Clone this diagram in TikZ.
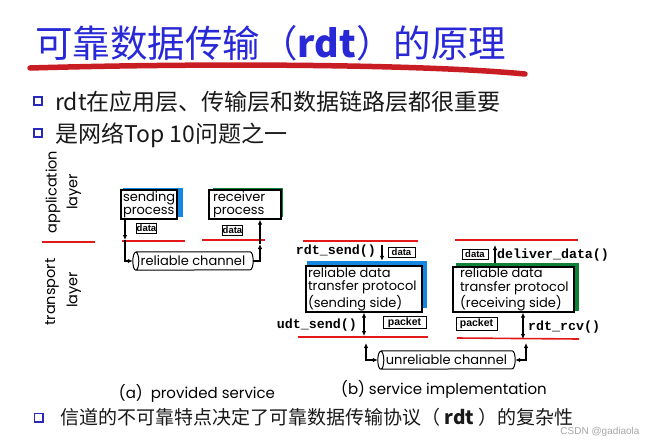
\documentclass[tikz,border=0pt]{standalone}
\usepackage{fontspec}
\setmainfont{Noto Sans CJK SC}
\newfontfamily\gfont{Poppins}
\newfontfamily\mfont{Liberation Mono}
\newfontfamily\lfont{Liberation Sans}
\usetikzlibrary{arrows.meta}
\definecolor{titleblue}{RGB}{40,40,215}
\definecolor{strokered}{RGB}{200,30,35}
\definecolor{linered}{RGB}{225,25,25}
\definecolor{bulblue}{RGB}{40,40,190}
\definecolor{shblue}{RGB}{20,135,225}
\definecolor{shgreen}{RGB}{15,130,55}
\begin{document}
\begin{tikzpicture}[x=1pt,y=-1pt,
  tip/.style={-{Latex[length=5pt,width=4.5pt]}},
  dtip/.style={{Latex[length=5pt,width=4.5pt]}-{Latex[length=5pt,width=4.5pt]}},
  conn/.style={line width=1.1pt},
  redline/.style={draw=linered, line width=1.6pt},
  procbox/.style={draw, line width=1.3pt, fill=white, align=flush left, inner xsep=2pt, inner ysep=0pt, font=\gfont\fontsize{13}{13.5}\selectfont},
  shadowbox/.style={inner sep=0pt},
  tag/.style={draw, line width=1pt, fill=white, inner sep=0pt, font=\lfont\bfseries\fontsize{9.5}{10}\selectfont},
  fname/.style={font=\mfont\bfseries\fontsize{13.3}{14}\selectfont, inner sep=0pt},
  chan/.style={inner sep=0pt, minimum height=18pt, font=\gfont\fontsize{13}{13}\selectfont},
  layerlbl/.style={rotate=90, font=\gfont\fontsize{14.5}{15}\selectfont, inner sep=0pt},
  captxt/.style={font=\gfont\fontsize{15}{15}\selectfont, inner sep=0pt},
  bul/.style={draw=bulblue, line width=1.7pt, minimum size=8.3pt, inner sep=0pt},
  btext/.style={anchor=base west, inner sep=0pt, text=black!90},
]
\useasboundingbox[fill=white] (0,0) rectangle (654,445);

% title
\node[anchor=base west, inner sep=0pt, text=titleblue, font=\fontsize{37.5}{40}\selectfont] (title) at (35,57.5) {可靠数据传输（\textbf{rdt}）的原理};
\draw[strokered, line width=5.5pt, line cap=round] (30,68) .. controls (200,63) and (420,64) .. (525,74);

% bullets
\node[bul] (b1) at (38,101) {};
\node[btext, font=\fontsize{23}{24}\selectfont] (t1) at (55,110) {rdt在应用层、传输层和数据链路层都很重要};
\node[bul] (b2) at (38,133) {};
\node[btext, font=\fontsize{23}{24}\selectfont] (t2) at (55,142) {是网络Top 10问题之一};
\node[bul] (b3) at (38.5,417.5) {};
\node[btext, font=\fontsize{19}{20}\selectfont] (t3) at (60,424) {信道的不可靠特点决定了可靠数据传输协议（ \textbf{rdt} ）的复杂性};

% layer labels
\node[layerlbl] (lapp) at (53,192) {application};
\node[layerlbl] (llay1) at (74,192) {layer};
\draw[redline] (42,242) -- (95,242);
\node[layerlbl] (ltr) at (52,292) {transport};
\node[layerlbl] (llay2) at (74,290) {layer};

% (a) provided service
\node[shadowbox, fill=shblue, minimum width=60pt, minimum height=29pt] (spsh) at (153,202.5) {};
\node[procbox, minimum width=56pt, minimum height=29pt, text width=52pt] (sp) at (149,204.5) {sending\\process};
\node[shadowbox, fill=shgreen, minimum width=70pt, minimum height=29pt] (rpsh) at (248,202.5) {};
\node[procbox, minimum width=72pt, minimum height=29pt, text width=64pt, inner xsep=4pt] (rp) at (245,204.5) {receiver\\process};
\node[tag, minimum width=19pt, minimum height=9.5pt] (d1) at (146.5,228.5) {data};
\node[tag, minimum width=19pt, minimum height=9.5pt] (d2) at (232.5,230.5) {data};
\draw[redline] (122,241) -- (185,241);
\draw[redline] (202,240) -- (265,240);
\node[chan, minimum width=120pt] (ch) at (193,261) {reliable channel};
\draw[line width=1pt] ([xshift=3pt]ch.north west) -- ([xshift=-3pt]ch.north east)
  arc[start angle=90,end angle=-90,x radius=3pt,y radius=9pt]
  -- ([xshift=3pt]ch.south west)
  arc[start angle=270,end angle=90,x radius=3pt,y radius=9pt]
  arc[start angle=90,end angle=-90,x radius=3pt,y radius=9pt];
\coordinate (a1) at (125,240);
\coordinate (a2) at (260,244);
\draw[conn,tip] (sp.south -| a1) -- (a1);
\draw[conn,tip] (a1) |- (ch.west);
\draw[conn,tip] (ch.east) -| (a2);
\draw[conn,tip] (a2) -- (rp.south -| a2);
\node[captxt] (capa) at (197,393) {(a)\ \ provided service};

% (b) service implementation
\draw[redline] (303,241) -- (418,241);
\draw[redline] (455,240) -- (578,240);
\draw[redline] (298,337) -- (428,337);
\draw[redline] (457,338) -- (579,339);
\node[shadowbox, fill=shblue, minimum width=120pt, minimum height=47pt] (rssh) at (367,284.5) {};
\node[procbox, minimum width=116pt, minimum height=46pt, text width=112pt] (rs) at (364,289) {reliable data\\transfer protocol\\(sending side)};
\node[shadowbox, fill=shgreen, minimum width=123pt, minimum height=48pt] (rrsh) at (517.5,287) {};
\node[procbox, minimum width=121pt, minimum height=45pt, text width=113pt, inner xsep=4pt] (rr) at (513.5,289.5) {\hspace*{3pt}reliable data\\\hspace*{3pt}transfer protocol\\\hspace*{3pt}(receiving side)};
\node[fname, anchor=east] (fsend) at (376,251) {rdt\_send()};
\node[tag, minimum width=27pt, minimum height=9.5pt] (d3) at (401.5,252.5) {data};
\node[fname, anchor=east] (fudt) at (357,325) {udt\_send()};
\node[tag, minimum width=43pt, minimum height=11.5pt, font=\lfont\bfseries\fontsize{10.5}{11}\selectfont] (p1) at (404.5,322.5) {packet};
\node[tag, minimum width=26pt, minimum height=10pt] (d4) at (475,254) {data};
\node[fname, anchor=west] (fdeliv) at (497,255) {deliver\_data()};
\node[tag, minimum width=41pt, minimum height=13pt, font=\lfont\bfseries\fontsize{10.5}{11}\selectfont] (p2) at (476.5,323.5) {packet};
\node[fname, anchor=west] (frcv) at (528,327) {rdt\_rcv()};
\node[chan, minimum width=137pt] (uch) at (446.5,360) {unreliable channel};
\draw[line width=1pt] ([xshift=3pt]uch.north west) -- ([xshift=-3pt]uch.north east)
  arc[start angle=90,end angle=-90,x radius=3pt,y radius=9pt]
  -- ([xshift=3pt]uch.south west)
  arc[start angle=270,end angle=90,x radius=3pt,y radius=9pt]
  arc[start angle=90,end angle=-90,x radius=3pt,y radius=9pt];
\coordinate (s1) at (382,245);
\coordinate (s2) at (364,336);
\coordinate (s3) at (366,343);
\coordinate (r1) at (495,245);
\coordinate (r2) at (523,339);
\coordinate (r3) at (526,343);
\draw[conn,tip] (s1) -- (rssh.north -| s1);
\draw[conn,dtip] (rs.south -| s2) -- (s2);
\draw[conn,dtip] (s3) |- (uch.west);
\draw[conn,tip] (rrsh.north -| r1) -- (r1);
\draw[conn,dtip] (rr.south -| r2) -- (r2);
\draw[conn,dtip] (uch.east) -| (r3);
\node[captxt] (capb) at (444,389) {(b) service implementation};

\node[font=\lfont\fontsize{10}{10}\selectfont, text=black!35, inner sep=0pt] (wm) at (600,432) {CSDN @gadiaola};
\end{tikzpicture}
\end{document}
